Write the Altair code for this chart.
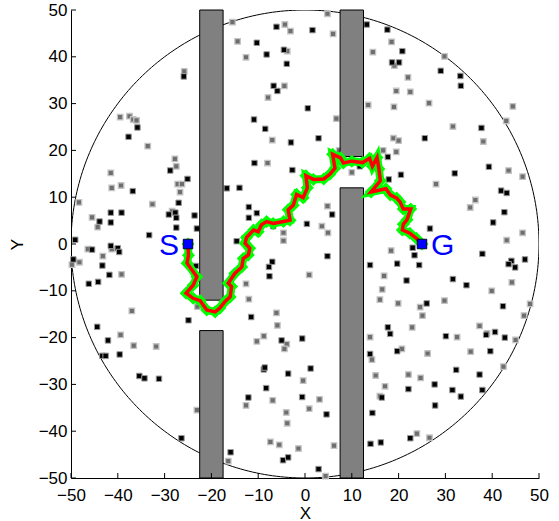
import altair as alt
import numpy as np
import pandas as pd

# ---------------- data ----------------
TICKS = [-50, -40, -30, -20, -10, 0, 10, 20, 30, 40, 50]
CIRCLE_R = 50

# walls (rectangles): x0, x1, y0, y1
WALL_X0 = [-22.5, -22.5, 7.5, 7.5]
WALL_X1 = [-17.5, -17.5, 12.5, 12.5]
WALL_Y0 = [-12.0, -50.0, 18.7, -50.0]
WALL_Y1 = [50.0, -18.5, 50.0, 12.0]

BLACK_X = [-6.1, -10.3, -8.2, -4.5, -3.9, -25.9, -6.7, -5.9, -35.8, -37.7, -10.9, -8.5, -3.0, -28.8,
           -25.1, -10.8, -2.7, -36.8, -43.9, -41.5, -41.5, -39.2, -27.0, -29.1, -27.7, -27.5, -23.6,
           -27.5, -23.1, -33.3, -16.7, -14.0, -12.0, -10.3, -12.0, -14.6, -6.8, -49.1, -45.5, -41.5,
           -40.0, -39.7,
           13.2, 1.6, 17.6, 20.8, 18.6, 20.1, 29.0, 33.2, 33.3, 0.6, 37.7, 2.9, 25.6, 17.7, 39.3, 32.0,
           20.5, 17.9, 41.9, 43.1, 42.6, 5.8, 0.4, 40.2, 26.7, 23.0, 23.4, 37.9, 4.8, 47.0, 11.7,
           -49.5, -43.3, -41.8, -46.2, -44.2, -44.4, -42.1, -43.3, -42.6, -39.6, -35.4, -34.3, -31.2,
           -26.4, -24.9, -23.3, -7.0, -7.7, -7.6, -11.5, -5.0, -8.8, -8.6, -3.6, -8.3, -12.1, -15.9,
           -4.7, -3.6,
           -0.6, 1.2, -0.6, 4.6, 2.9, 13.9, 19.7, 24.4, 21.7, 26.0, 31.6, 34.5, 44.1, 43.5, 44.9, 42.3,
           42.7, 40.6, 38.7, 30.1, 17.7, 18.2, 13.9, 19.7, 39.6, 37.3, 37.9, 32.3, 27.7, 31.5, 33.3,
           22.1, 16.4, 27.8, 14.4, 16.2, 22.5, 14.0]
BLACK_Y = [46.4, 43.0, 40.5, 41.5, 38.5, 35.8, 33.8, 32.7, 24.9, 22.9, 26.6, 24.6, 21.7, 15.7,
           13.9, 17.3, 15.8, 11.3, 4.8, 6.7, 4.6, 6.7, 8.8, 6.3, 6.7, 5.6, 6.1,
           3.5, 3.3, 1.9, 11.9, 12.0, 7.9, 6.6, 5.6, 0.6, 3.8, 0.9, -1.2, -0.4,
           -0.9, -1.7,
           46.9, 45.7, 45.8, 41.2, 38.8, 38.8, 37.0, 35.9, 33.8, 29.0, 24.8, 22.6, 22.6, 18.6, 16.5, 15.1,
           14.8, 13.8, 11.4, 10.9, 6.8, 6.3, 4.3, 4.6, 3.3, -0.8, -2.4, -2.1, -2.6, -3.3, 16.6,
           -3.3, -4.6, -6.6, -8.5, -8.1, -17.7, -20.6, -23.9, -23.9, -23.6, -28.2, -28.7, -28.8,
           -41.5, -16.3, -4.7, -3.8, -4.9, -6.9, -15.6, -20.6, -26.8, -26.4, -27.7, -30.8, -32.8, -44.5,
           -46.2, -45.6,
           -20.2, -26.6, -32.7, -36.4, -48.1, -4.5, -4.2, -4.5, -7.8, -12.7, -7.5, -8.8, -3.6, -4.3, -5.0, -13.3,
           -20.0, -18.8, -19.4, -19.7, -17.8, -19.2, -23.5, -22.9, -22.9, -27.9, -31.2, -26.9, -30.0, -31.2, -32.6,
           -31.0, -32.8, -34.5, -36.1, -42.4, -41.5, -42.7]

GRAY_X = [-15.5, -4.3, -3.1, -14.4, -12.6, -3.8, -25.8, -4.4, -7.9, -39.5, -37.5, -36.7, -36.0, -33.6,
          -7.0, -27.8, -27.5, -27.2, -26.3, -26.7, -8.0, -41.5, -41.3, -39.3, -48.3, -32.6, -45.5, -44.3,
          -28.4, -4.6, -4.6, -46.4, -41.3, -43.2, -12.9,
          4.8, 6.0, 18.5, 14.5, 19.1, 29.8, 22.0, 19.5, 22.5, 13.5, 19.0, 26.5, 44.4, 6.7, 43.0, 31.6,
          38.1, 18.9, 20.0, 16.7, 19.5, 7.3, 43.5, 46.5, 10.0, 28.0, 36.4, 35.3, 4.8, 3.6, 4.9, 46.5,
          43.1, 18.4,
          -49.8, -48.2, -39.2, -37.0, -39.4, -36.6, -31.8, -23.1, -23.0, -12.6, -12.0, -6.1, -5.9, -10.3,
          -8.8, -3.9, -4.4, -6.9, -12.6, -4.0, -3.8, -7.4, -5.5, -16.4, -1.4,
          0.9, -0.4, 3.1, 0.9, 4.4, 6.2, 16.9, 16.5, 16.0, 19.9, 24.6, 25.1, 39.9, 44.2, 29.8, 48.1, 46.8,
          45.0, 38.9, 37.3, 22.9, 32.5, 13.9, 14.3, 20.7, 26.2, 35.4, 42.4, 24.7, 22.1, 15.1, 17.1, 16.0,
          23.9, 26.6]
GRAY_Y = [47.4, 46.9, 45.5, 43.3, 39.9, 41.2, 36.9, 33.8, 31.3, 27.1, 27.3, 26.6, 26.4, 20.9,
          22.2, 18.2, 16.6, 12.8, 12.8, 11.1, 17.3, 15.2, 12.0, 12.5, 8.9, 8.5, 5.7, 3.6,
          7.0, 2.4, 0.7, -1.1, -1.1, -2.6, 1.2,
          49.2, 44.9, 43.2, 41.0, 38.1, 40.1, 35.6, 32.7, 32.5, 29.7, 29.3, 30.1, 29.4, 26.8, 26.3, 25.1,
          21.9, 22.6, 22.1, 20.0, 19.7, 20.0, 15.7, 14.4, 15.3, 12.8, 9.4, 7.8, 8.1, 3.8, 2.4, 2.4,
          0.8, -1.4,
          -4.4, -3.9, -6.5, -14.3, -19.4, -21.7, -21.9, -35.5, -13.4, -8.5, -11.8, -14.7, -17.4, -20.8,
          -19.7, -21.4, -22.4, -33.4, -34.5, -36.0, -38.3, -42.3, -42.9, -46.4, -43.7,
          -6.6, -29.2, -33.2, -35.2, -49.6, -43.1, -6.8, -9.7, -11.9, -12.7, -13.5, -15.3, -10.0, -8.2, -12.1, -12.8, -15.3,
          -20.5, -19.1, -17.5, -17.8, -19.9, -19.9, -24.7, -22.4, -23.4, -23.0, -26.2, -28.6, -27.9, -28.1, -30.4, -32.5,
          -40.5, -41.4]

PATH_X = [-25.0, -24.9, -25.2, -23.1, -23.9, -25.4, -23.9, -22.4, -21.0, -19.2, -18.2, -17.1, -16.0,
          -15.7, -16.4, -15.0, -13.5, -13.2, -12.1, -11.8, -12.8, -12.5, -11.0, -10.0, -9.3, -8.2, -6.8,
          -4.6, -3.2, -3.6, -2.5, -1.8, -0.4, 0.5, 0.2, 1.8, 4.0, 5.3, 6.4, 5.9, 7.6, 8.2, 10.0, 12.3,
          13.8, 14.4, 15.4, 15.8, 16.1, 14.1, 17.3, 18.2, 19.6, 20.3, 21.0, 22.6, 21.8, 21.0, 20.8, 22.4,
          23.8, 25.0]
PATH_Y = [0.0, -2.4, -4.1, -7.0, -8.8, -10.5, -11.6, -12.1, -14.1, -14.5, -13.7, -12.3, -11.3,
          -9.1, -8.4, -6.3, -4.9, -3.1, -2.35, -0.9, 0.15, 1.4, 3.0, 2.6, 4.1, 4.8, 4.4,
          4.8, 5.1, 7.3, 8.3, 10.6, 9.9, 12.0, 14.6, 13.8, 13.9, 14.9, 16.2, 19.2, 18.4, 17.3, 17.7, 17.4,
          18.3, 16.6, 18.5, 16.0, 13.5, 11.1, 11.8, 10.5, 9.8, 9.0, 7.5, 7.5, 5.2, 4.2, 3.0, 2.3,
          1.2, 0.0]

START_X, START_Y = -25.0, 0.0
GOAL_X, GOAL_Y = 25.0, 0.0
MARK_LABELS = ["S", "G"]

FONT = "Liberation Sans"

# ---------------- tables ----------------
theta = np.linspace(0, 2 * np.pi, 361)
circle_df = pd.DataFrame({"x": CIRCLE_R * np.cos(theta), "y": CIRCLE_R * np.sin(theta),
                          "o": np.arange(len(theta))})
walls_df = pd.DataFrame({"x": WALL_X0, "x2": WALL_X1, "y": WALL_Y0, "y2": WALL_Y1})
black_df = pd.DataFrame({"x": BLACK_X, "y": BLACK_Y})
gray_df = pd.DataFrame({"x": GRAY_X, "y": GRAY_Y})
path_df = pd.DataFrame({"x": PATH_X, "y": PATH_Y, "o": list(range(len(PATH_X)))})
s_df = pd.DataFrame({"x": [START_X], "y": [START_Y], "t": [MARK_LABELS[0]]})
g_df = pd.DataFrame({"x": [GOAL_X], "y": [GOAL_Y], "t": [MARK_LABELS[1]]})
se_df = pd.concat([s_df, g_df])
tick_df = pd.DataFrame({"x": TICKS, "y": TICKS})

xs = alt.Scale(domain=[-50, 50], nice=False, zero=False)
ys = alt.Scale(domain=[-50, 50], nice=False, zero=False)
xaxis = alt.Axis(values=TICKS, title="X", labelPadding=9, titlePadding=2, tickSize=0,
                 domainColor="black", labelFontSize=17, titleFontSize=17, labelFont=FONT,
                 titleFont=FONT, labelColor="black", titleColor="black", titleFontWeight="normal",
                 grid=False, labelFlush=False)
yaxis = alt.Axis(values=TICKS, title="Y", labelPadding=4, titlePadding=12, tickSize=0,
                 domainColor="black", labelFontSize=17, titleFontSize=17, labelFont=FONT,
                 titleFont=FONT, labelColor="black", titleColor="black", titleFontWeight="normal",
                 grid=False, labelFlush=False)


def X(f="x"):
    return alt.X(f + ":Q", scale=xs, axis=xaxis)


def Y(f="y"):
    return alt.Y(f + ":Q", scale=ys, axis=yaxis)


circle = alt.Chart(circle_df).mark_line(color="black", strokeWidth=1, clip=True).encode(
    x=X(), y=Y(), order="o:Q")

black_pts = alt.Chart(black_df).mark_point(shape="square", filled=True, fill="black",
                                           stroke="#9a9a9a", strokeWidth=1, size=30,
                                           opacity=1).encode(x=X(), y=Y())
gray_pts = alt.Chart(gray_df).mark_point(shape="square", filled=True, fill="#6e6e6e",
                                         stroke="#c4c4c4", strokeWidth=1.3, size=30,
                                         opacity=1).encode(x=X(), y=Y())

walls = alt.Chart(walls_df).mark_rect(fill="#808080", stroke="black", strokeWidth=1).encode(
    x=X(), x2="x2:Q", y=Y(), y2="y2:Q")

green_line = alt.Chart(path_df).mark_line(color="#00ff00", strokeWidth=8).encode(
    x=X(), y=Y(), order="o:Q")
green_pts = alt.Chart(path_df).mark_point(shape="diamond", filled=True, fill="#00ff00",
                                          strokeWidth=0, size=170, opacity=1).encode(x=X(), y=Y())
red_line = alt.Chart(path_df).mark_line(color="#ff0000", strokeWidth=3.5).encode(
    x=X(), y=Y(), order="o:Q")

se_pts = alt.Chart(se_df).mark_point(shape="square", filled=True, fill="#0000ff",
                                     stroke="#000033", strokeWidth=1, size=90,
                                     opacity=1).encode(x=X(), y=Y())
s_text = alt.Chart(s_df).mark_text(font=FONT, fontSize=30, color="#0000ff", align="right",
                                   baseline="alphabetic", dx=-9, dy=11).encode(
    x=X(), y=Y(), text="t:N")
g_text = alt.Chart(g_df).mark_text(font=FONT, fontSize=30, color="#0000ff", align="left",
                                   baseline="alphabetic", dx=9, dy=11).encode(
    x=X(), y=Y(), text="t:N")

xticks = alt.Chart(tick_df).mark_rule(color="black", strokeWidth=1).encode(
    x=X(), y=alt.value(468), y2=alt.value(463))
yticks = alt.Chart(tick_df).mark_rule(color="black", strokeWidth=1).encode(
    y=Y(), x=alt.value(0), x2=alt.value(5))

chart = alt.layer(circle, gray_pts, black_pts, walls, green_line, green_pts, red_line,
                  se_pts, s_text, g_text, xticks, yticks).properties(
    width=468, height=468,
    autosize=alt.AutoSizeParams(type="none"),
    padding={"left": 71, "top": 10, "right": 20, "bottom": 43},
    background="white",
).configure_view(stroke=None)

chart.save("out.html", embed_options={"renderer": "svg", "actions": False})
